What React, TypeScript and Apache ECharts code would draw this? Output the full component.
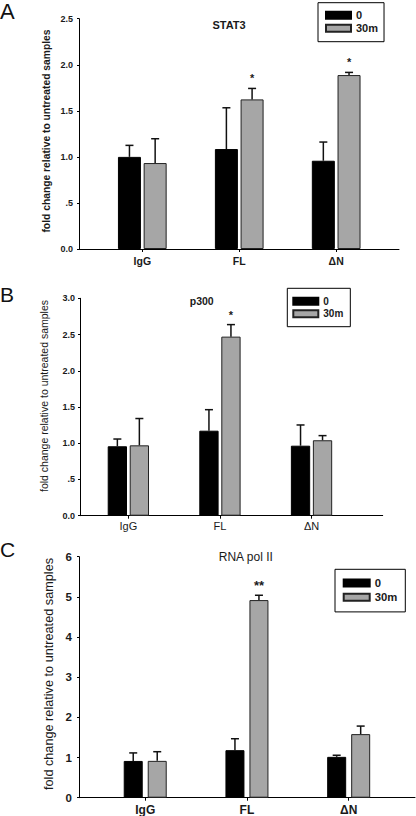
import React, { useEffect, useRef } from 'react';
import * as echarts from 'echarts';

// ---------- data ----------
const categories = ['IgG', 'FL', 'ΔN'];
const seriesNames = ['0', '30m'];
const yAxisName = 'fold change relative to untreated samples';

// Panel A — STAT3
const stat3Untreated = [1.0, 1.085, 0.958];
const stat3UntreatedErr = [0.125, 0.448, 0.203];
const stat3Treated = [0.933, 1.624, 1.888];
const stat3TreatedErr = [0.264, 0.119, 0.029];
const stat3Stars = ['', '*', '*'];
const stat3Ticks = ['0.0', '.5', '1.0', '1.5', '2.0', '2.5'];

// Panel B — p300
const p300Untreated = [0.958, 1.173, 0.966];
const p300UntreatedErr = [0.1, 0.29, 0.286];
const p300Treated = [0.971, 2.471, 1.041];
const p300TreatedErr = [0.37, 0.166, 0.064];
const p300Stars = ['', '*', ''];
const p300Ticks = ['0.0', '.5', '1.0', '1.5', '2.0', '2.5', '3.0'];

// Panel C — RNA pol II
const polUntreated = [0.915, 1.183, 1.017];
const polUntreatedErr = [0.2, 0.285, 0.04];
const polTreated = [0.917, 4.92, 1.583];
const polTreatedErr = [0.228, 0.12, 0.2];
const polStars = ['', '**', ''];
const polTicks = ['0', '1', '2', '3', '4', '5', '6'];

// ---------- layout / style ----------
const FONT = '"Liberation Sans", Arial, Helvetica, sans-serif';
const TEXT = '#1a1a1a';
const BLACK = '#000000';
const GRAY = '#a6a6a6';
const EDGE = '#222222';

const panels = [
  {
    letter: 'A', letterPos: [0, 11.5], letterSize: 22,
    title: 'STAT3', titlePos: [229, 25], titleSize: 11, titleWeight: 'bold',
    namePos: [46.5, 131], nameSize: 10.3, nameWeight: 'bold',
    grid: { left: 79, top: 18.7, width: 320, height: 230.3 },
    xMin: 0.347, xMax: 3.648, yMax: 2.5, yInterval: 0.5,
    ticks: stat3Ticks, tickSize: 9, tickMargin: 6,
    catSize: 10.5, catWeight: 'bold', catMargin: 6,
    barW: 23, gapPx: 2.7,
    untreated: stat3Untreated, untreatedErr: stat3UntreatedErr,
    treated: stat3Treated, treatedErr: stat3TreatedErr, stars: stat3Stars, starSize: 11,
    legend: { left: 318, top: 2.7, padding: [7, 6, 8, 7], itemWidth: 25, itemHeight: 7, itemGap: 2, fontSize: 11 },
  },
  {
    letter: 'B', letterPos: [0, 294.2], letterSize: 21,
    title: 'p300', titlePos: [201.7, 301], titleSize: 10.5, titleWeight: 'bold',
    namePos: [43.5, 396], nameSize: 10.5, nameWeight: 'normal',
    grid: { left: 80, top: 298.3, width: 302.7, height: 217.4 },
    xMin: 0.472, xMax: 3.777, yMax: 3.0, yInterval: 0.5,
    ticks: p300Ticks, tickSize: 9, tickMargin: 5,
    catSize: 11, catWeight: 'normal', catMargin: 5,
    barW: 19.3, gapPx: 2.7,
    untreated: p300Untreated, untreatedErr: p300UntreatedErr,
    treated: p300Treated, treatedErr: p300TreatedErr, stars: p300Stars, starSize: 11,
    legend: { left: 287.3, top: 288.3, padding: [8, 7, 8, 5], itemWidth: 25, itemHeight: 7, itemGap: 2.4, fontSize: 10 },
  },
  {
    letter: 'C', letterPos: [0, 549], letterSize: 21,
    title: 'RNA pol II', titlePos: [245.8, 557], titleSize: 12, titleWeight: 'normal',
    namePos: [48.5, 674], nameSize: 12.7, nameWeight: 'normal',
    grid: { left: 79, top: 556.7, width: 336, height: 241 },
    xMin: 0.349, xMax: 3.652, yMax: 6, yInterval: 1,
    ticks: polTicks, tickSize: 11.5, tickMargin: 7,
    catSize: 12, catWeight: 'bold', catMargin: 6,
    barW: 19, gapPx: 5,
    untreated: polUntreated, untreatedErr: polUntreatedErr,
    treated: polTreated, treatedErr: polTreatedErr, stars: polStars, starSize: 13,
    legend: { left: 335, top: 569.3, padding: [8, 8, 9, 7.7], itemWidth: 26, itemHeight: 7, itemGap: 3, fontSize: 11.3 },
  },
];

function buildOption() {
  const grid: any[] = [];
  const xAxis: any[] = [];
  const yAxis: any[] = [];
  const series: any[] = [];
  const legend: any[] = [];
  const graphic: any[] = [];

  panels.forEach((p, i) => {
    grid.push({ ...p.grid, containLabel: false });
    xAxis.push({
      type: 'value', gridIndex: i, min: p.xMin, max: p.xMax,
      axisLine: { show: true, onZero: false, lineStyle: { color: BLACK, width: 1 } },
      axisTick: { show: true, customValues: [1, 2, 3], length: 3, lineStyle: { color: BLACK } },
      axisLabel: {
        show: true, customValues: [1, 2, 3], margin: p.catMargin,
        formatter: (v: number) => categories[Math.round(v) - 1] ?? '',
        color: TEXT, fontFamily: FONT, fontSize: p.catSize, fontWeight: p.catWeight,
      },
      splitLine: { show: false },
    });
    yAxis.push({
      type: 'value', gridIndex: i, min: 0, max: p.yMax, interval: p.yInterval,
      axisLine: { show: true, onZero: false, lineStyle: { color: BLACK, width: 1 } },
      axisTick: { show: true, length: 2, lineStyle: { color: BLACK } },
      axisLabel: {
        margin: p.tickMargin, color: TEXT, fontFamily: FONT, fontSize: p.tickSize, fontWeight: 'bold',
        formatter: (_v: number, idx: number) => p.ticks[idx] ?? '',
      },
      splitLine: { show: false },
    });

    const barGap = `${(p.gapPx / p.barW) * 100}%`;
    series.push({
      type: 'bar', name: seriesNames[0], xAxisIndex: i, yAxisIndex: i,
      data: p.untreated.map((v, j) => [j + 1, v]),
      barWidth: p.barW, barGap,
      itemStyle: { color: BLACK, borderColor: BLACK, borderWidth: 1 },
    });
    series.push({
      type: 'bar', name: seriesNames[1], xAxisIndex: i, yAxisIndex: i,
      data: p.treated.map((v, j) => [j + 1, v]),
      barWidth: p.barW, barGap,
      itemStyle: { color: GRAY, borderColor: EDGE, borderWidth: 1 },
    });

    const errData = [
      ...p.untreated.map((v, j) => [j + 1, v, p.untreatedErr[j], 0]),
      ...p.treated.map((v, j) => [j + 1, v, p.treatedErr[j], 1]),
    ];
    const off = (p.barW + p.gapPx) / 2;
    series.push({
      type: 'custom', xAxisIndex: i, yAxisIndex: i, z: 5, clip: false,
      data: errData,
      renderItem: (_params: any, api: any) => {
        const x = api.value(0) as number;
        const v = api.value(1) as number;
        const e = api.value(2) as number;
        const s = api.value(3) as number;
        const base = api.coord([x, v]);
        const top = api.coord([x, v + e]);
        const cx = base[0] + (s === 0 ? -off : off);
        const lineStyle = { stroke: '#111111', lineWidth: 1.5 };
        const children: any[] = [
          { type: 'line', shape: { x1: cx, y1: base[1], x2: cx, y2: top[1] }, style: lineStyle },
          { type: 'line', shape: { x1: cx - 4, y1: top[1], x2: cx + 4, y2: top[1] }, style: lineStyle },
        ];
        const star = s === 1 ? p.stars[Math.round(x) - 1] : '';
        if (star) {
          children.push({
            type: 'text', x: cx, y: top[1] - 10,
            style: {
              text: star, fill: TEXT, fontFamily: FONT, fontSize: p.starSize, fontWeight: 'bold',
              align: 'center', verticalAlign: 'middle',
            },
          });
        }
        return { type: 'group', children };
      },
    });

    legend.push({
      data: seriesNames, orient: 'vertical', selectedMode: false,
      left: p.legend.left, top: p.legend.top, padding: p.legend.padding,
      itemWidth: p.legend.itemWidth, itemHeight: p.legend.itemHeight, itemGap: p.legend.itemGap,
      icon: 'rect', borderColor: BLACK, borderWidth: 1, backgroundColor: '#ffffff',
      textStyle: { color: TEXT, fontFamily: FONT, fontSize: p.legend.fontSize, fontWeight: 'bold', lineHeight: p.legend.fontSize },
    });

    graphic.push({
      type: 'text', x: p.letterPos[0], y: p.letterPos[1],
      style: { text: p.letter, fill: '#111111', fontFamily: FONT, fontSize: p.letterSize, align: 'left', verticalAlign: 'middle' },
    });
    graphic.push({
      type: 'text', x: p.titlePos[0], y: p.titlePos[1],
      style: { text: p.title, fill: TEXT, fontFamily: FONT, fontSize: p.titleSize, fontWeight: p.titleWeight, align: 'center', verticalAlign: 'middle' },
    });
    graphic.push({
      type: 'text', x: p.namePos[0], y: p.namePos[1], rotation: Math.PI / 2,
      style: { text: yAxisName, fill: TEXT, fontFamily: FONT, fontSize: p.nameSize, fontWeight: p.nameWeight, align: 'center', verticalAlign: 'middle' },
    });
  });

  return {
    animation: false,
    backgroundColor: '#ffffff',
    textStyle: { fontFamily: FONT },
    grid, xAxis, yAxis, series, legend, graphic,
  };
}

export default function App() {
  const ref = useRef<HTMLDivElement>(null);
  useEffect(() => {
    if (!ref.current) return;
    const chart = echarts.init(ref.current, undefined, { renderer: 'svg' });
    chart.setOption(buildOption() as any);
    return () => chart.dispose();
  }, []);
  return (
    <div
      ref={ref}
      style={{ position: 'absolute', left: 0, top: 0, width: 416, height: 816, background: '#fff' }}
    />
  );
}
